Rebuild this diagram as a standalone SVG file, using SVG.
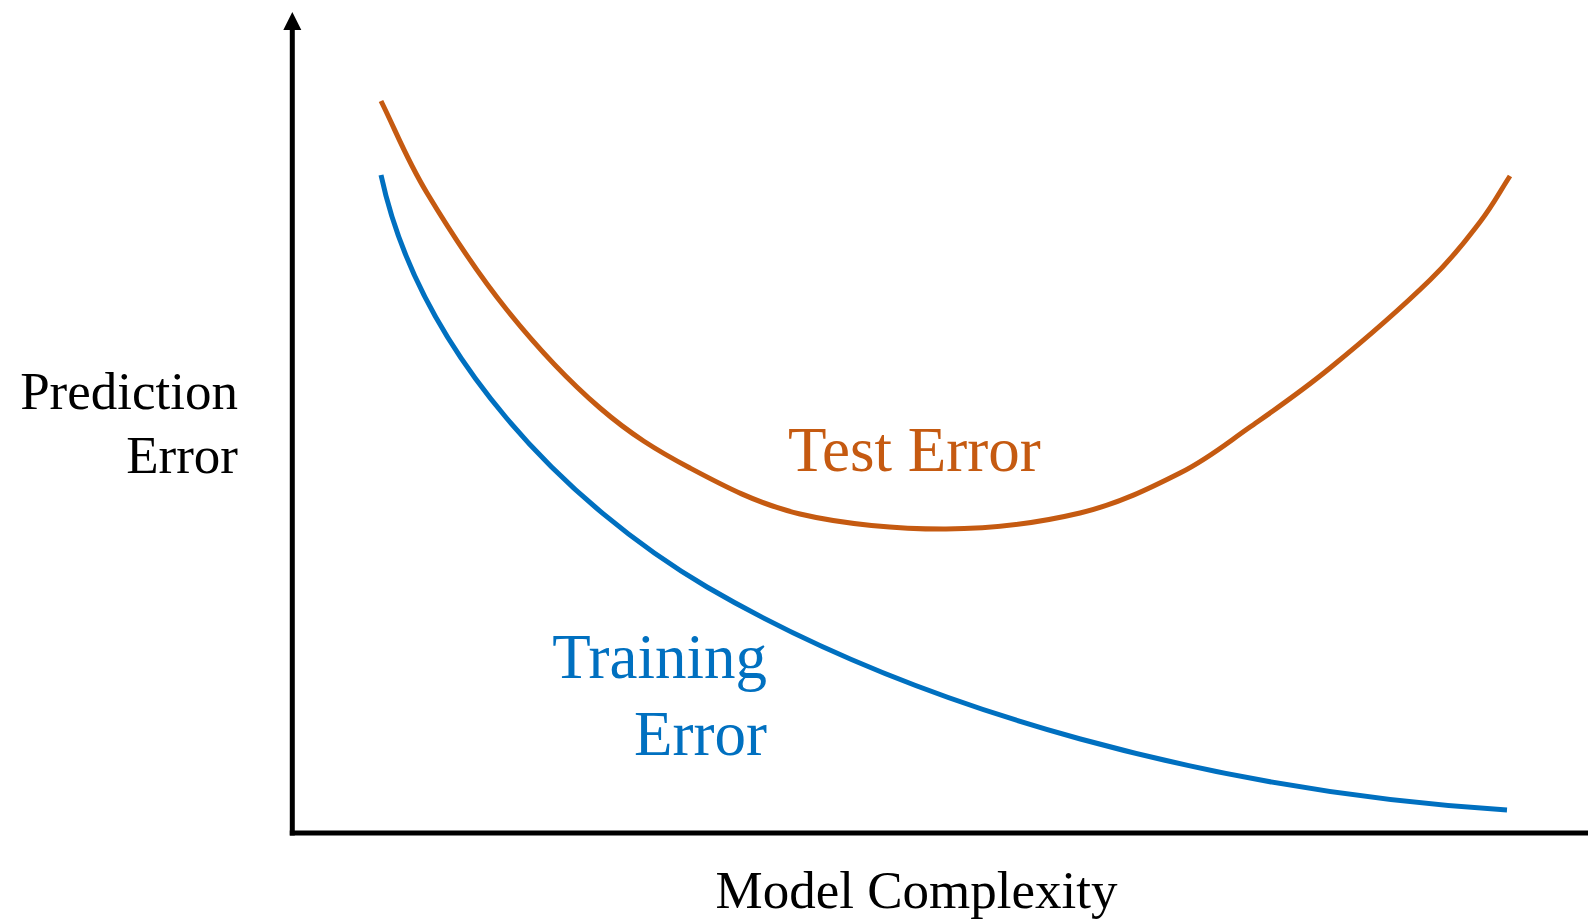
<svg xmlns="http://www.w3.org/2000/svg" width="1588" height="923" viewBox="0 0 1588 923">
<style>
text{font-family:"Liberation Serif","Times New Roman",serif}
.ax{font-size:53px;fill:#000}
.lbl{font-size:63px}
.curve{fill:none;stroke-width:5}
</style>
<rect width="1588" height="923" fill="#fff"/>
<g id="axes">
<line x1="292.3" y1="835.5" x2="292.3" y2="28" stroke="#000" stroke-width="5"/>
<polygon points="292.3,12 283.3,30 301.3,30" fill="#000"/>
<line x1="289.8" y1="833" x2="1588" y2="833" stroke="#000" stroke-width="5"/>
</g>
<g id="test-curve">
<path class="curve" stroke="#C55A11" d="M381,101 C396.3,131.7 406,158.2 427,193 C448,227.8 478.2,274.2 507,310 C535.8,345.8 569.5,381.7 600,408 C630.5,434.3 656.7,450.3 690,468 C723.3,485.7 757.3,503.8 800,514 C842.7,524.2 899.3,529.2 946,529 C992.7,528.8 1041,522.3 1080,513 C1119,503.7 1151.7,487.3 1180,473 C1208.3,458.7 1225,444.5 1250,427 C1275,409.5 1300,392.5 1330,368 C1360,343.5 1405,304.3 1430,280 C1455,255.7 1466.7,239.3 1480,222 C1493.3,204.7 1500,191.3 1510,176"/>
</g>
<g id="training-curve">
<path class="curve" stroke="#0070C0" d="M381,175 C420,356 569,506 707,587 C923,713 1220,792 1507,810"/>
</g>
<g id="y-label">
<text class="ax" x="238" y="409" text-anchor="end">Prediction</text>
<text class="ax" x="238" y="473" text-anchor="end">Error</text>
</g>
<g id="x-label">
<text class="ax" x="916.5" y="908" text-anchor="middle">Model Complexity</text>
</g>
<g id="test-label">
<text class="lbl" x="788" y="471" fill="#C55A11">Test Error</text>
</g>
<g id="training-label">
<text class="lbl" x="767" y="678" text-anchor="end" fill="#0070C0">Training</text>
<text class="lbl" x="767" y="755" text-anchor="end" fill="#0070C0">Error</text>
</g>
</svg>
